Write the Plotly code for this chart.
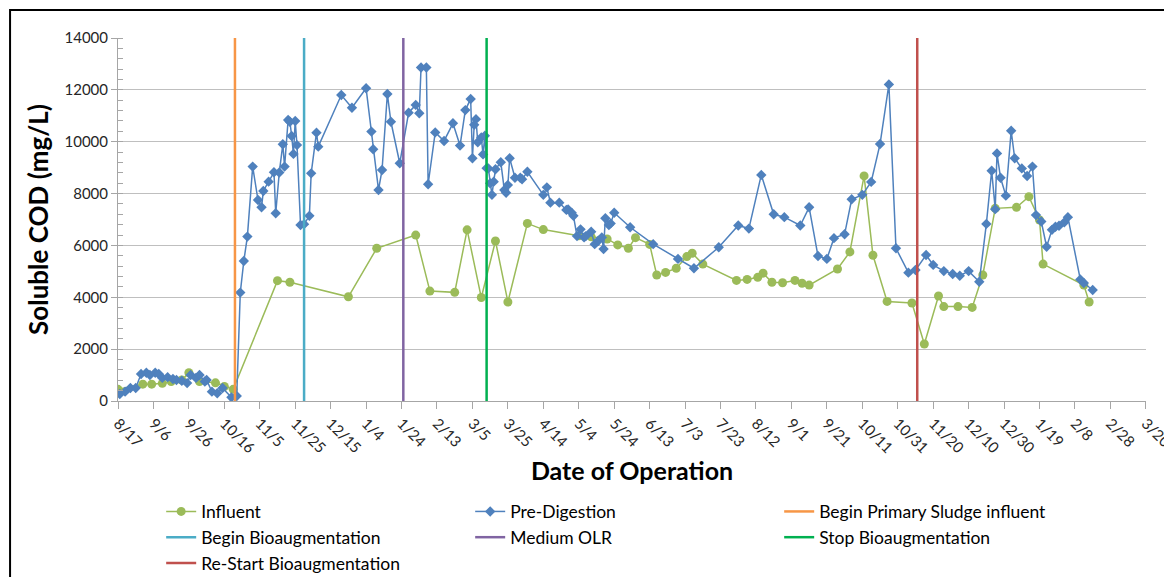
import pandas as pd
import plotly.graph_objects as go

START = pd.Timestamp("2012-08-17")

# Pre-Digestion soluble COD: day of operation (from 8/17) and mg/L
pre_day = [1, 4, 7, 10, 13, 16, 18, 21, 23, 25, 28, 31, 33, 36, 39, 41, 44, 46, 49, 50,
           53, 56, 59, 64, 67, 69, 71, 73, 76, 79, 81, 82, 85, 88, 89, 91, 93, 94, 96, 97,
           98, 99, 100, 101, 103, 105, 108, 109, 112, 113, 126, 132, 140, 143, 144, 147, 149, 152, 154, 159,
           164, 168, 170, 171, 174, 175, 179, 184, 189, 193, 196, 199, 200, 201, 202, 203, 205, 206, 207, 208,
           209, 210, 211, 212, 213, 216, 218, 219, 220, 221, 224, 227, 228, 231, 240, 242, 244, 249, 253, 254,
           256, 257, 259, 261, 263, 264, 267, 269, 271, 273, 274, 275, 277, 278, 280, 289, 302, 316, 325, 339,
           350, 356, 363, 370, 376, 385, 390, 395, 400, 404, 410, 414, 420, 425, 430, 435, 439, 446, 450, 456,
           460, 466, 471, 475, 480, 486, 490, 493, 495, 496, 498, 501, 504, 506, 510, 513, 516, 518, 521, 524,
           527, 529, 531, 534, 536, 543, 545, 550]
pre_cod = [270, 360, 500, 500, 1040, 1090, 1000, 1090, 1040, 890, 920, 850, 810, 780, 690, 1000, 890, 1000, 750, 810,
           360, 300, 500, 140, 190, 4180, 5400, 6340, 9040, 7750, 7470, 8100, 8460, 8820, 7240, 8810, 9900, 9040, 10840, 10770,
           10220, 9530, 10800, 9870, 6790, 6820, 7140, 8780, 10350, 9810, 11800, 11310, 12060, 10390, 9710, 8140, 8910, 11840, 10770, 9170,
           11120, 11420, 11100, 12860, 12860, 8360, 10360, 10030, 10710, 9850, 11220, 11650, 9360, 10650, 10870, 9980, 10160, 9510, 10230, 8980,
           8970, 8400, 7950, 8460, 8940, 9210, 8140, 8030, 8330, 9360, 8610, 8610, 8550, 8840, 7950, 8240, 7650, 7650, 7370, 7390,
           7260, 7140, 6360, 6620, 6310, 6360, 6530, 6050, 6180, 6310, 5860, 7050, 6790, 6850, 7260, 6700, 6050, 5480, 5120, 5930,
           6770, 6650, 8720, 7200, 7090, 6770, 7470, 5590, 5480, 6280, 6430, 7780, 7950, 8450, 9910, 12210, 5890, 4950, 5050, 5630,
           5250, 5010, 4900, 4830, 5010, 4600, 6830, 8880, 7400, 9550, 8610, 7920, 10420, 9360, 8970, 8680, 9040, 7170, 6920, 5950,
           6600, 6720, 6760, 6890, 7090, 4690, 4550, 4280]

# Influent soluble COD
inf_day = [0, 14, 19, 25, 30, 36, 40, 46, 55, 60, 65, 90, 97, 130, 146, 168, 176, 190, 197, 205,
           213, 220, 231, 240, 260, 267, 276, 282, 288, 292, 300, 304, 309, 315, 321, 324, 330, 349, 355, 361,
           364, 369, 375, 382, 386, 390, 406, 413, 421, 426, 434, 448, 455, 463, 466, 474, 482, 488, 495, 507,
           514, 520, 522, 545, 548]
inf_cod = [450, 650, 650, 680, 750, 810, 1090, 750, 700, 560, 450, 4640, 4580, 4020, 5890, 6400, 4240, 4190, 6600, 3990,
           6170, 3820, 6850, 6610, 6370, 6330, 6250, 6020, 5890, 6300, 6040, 4860, 4960, 5120, 5570, 5700, 5280, 4650, 4690, 4770,
           4930, 4580, 4560, 4650, 4540, 4470, 5090, 5750, 8680, 5620, 3840, 3780, 2200, 4050, 3640, 3640, 3610, 4860, 7430, 7470,
           7880, 6980, 5280, 4470, 3820]

# operational events (vertical markers)
event_names = ["Begin Primary Sludge influent", "Begin Bioaugmentation", "Medium OLR",
               "Stop Bioaugmentation", "Re-Start Bioaugmentation"]
event_dates = ["2012-10-22", "2012-11-30", "2013-01-25", "2013-03-13", "2013-11-11"]
event_colors = ["#F79646", "#4BACC6", "#8064A2", "#00B050", "#C0504D"]

FONT = "Lato"
to_date = lambda days: START + pd.to_timedelta(days, unit="D")

fig = go.Figure()
fig.add_scatter(x=to_date(inf_day), y=inf_cod, name="Influent", mode="lines+markers",
                line=dict(color="#9BBB59", width=1.5),
                marker=dict(symbol="circle", size=9, color="#9BBB59"))
fig.add_scatter(x=to_date(pre_day), y=pre_cod, name="Pre-Digestion", mode="lines+markers",
                line=dict(color="#4F81BD", width=1.5),
                marker=dict(symbol="diamond", size=8, color="#4F81BD"))
for nm, d, c in zip(event_names, event_dates, event_colors):
    fig.add_scatter(x=[d, d], y=[0, 14000], name=nm, mode="lines",
                    line=dict(color=c, width=2.5))

# outer chart frame
fig.add_shape(type="rect", xref="paper", yref="paper", x0=-0.105, x1=1.1, y0=-0.6, y1=1.077,
              line=dict(color="black", width=2), fillcolor="rgba(0,0,0,0)", layer="above")

fig.update_xaxes(type="date", range=["2012-08-17", "2014-03-20 02:00"], tick0="2012-08-17",
                 dtick=20 * 86400000, tickformat="%-m/%-d", tickangle=45, ticklabeloverflow="allow",
                 ticks="outside", ticklen=7, tickcolor="#A6A6A6", automargin=False,
                 showline=True, linecolor="#A6A6A6", showgrid=False, zeroline=False,
                 tickfont=dict(family=FONT, size=15, color="#262626"),
                 title=dict(text="<b>Date of Operation</b>", font=dict(family=FONT, size=25, color="black"),
                            standoff=6))
fig.update_yaxes(range=[0, 14000], dtick=2000, tickformat="d", ticks="outside", ticklen=6,
                 tickcolor="#A6A6A6", automargin=False,
                 showline=True, linecolor="#A6A6A6", gridcolor="#BFBFBF", zeroline=False,
                 minor=dict(dtick=400, ticks="inside", ticklen=5, tickcolor="#A6A6A6", showgrid=False),
                 tickfont=dict(family=FONT, size=15, color="#262626"),
                 title=dict(text="<b>Soluble COD (mg/L)</b>", font=dict(family=FONT, size=26, color="black"),
                            standoff=8))

# the page body adds an 8 px offset, so the figure is sized 8 px smaller
fig.update_layout(width=1164, height=569,
                  margin=dict(l=110, r=26, t=30, b=176, autoexpand=False),
                  plot_bgcolor="white", paper_bgcolor="white",
                  font=dict(family=FONT),
                  legend=dict(orientation="h", x=0.042, xanchor="left", y=-0.255, yanchor="top",
                              entrywidth=264, entrywidthmode="pixels", tracegroupgap=0,
                              font=dict(family=FONT, size=17.5, color="black")))

fig.write_html("out.html")
